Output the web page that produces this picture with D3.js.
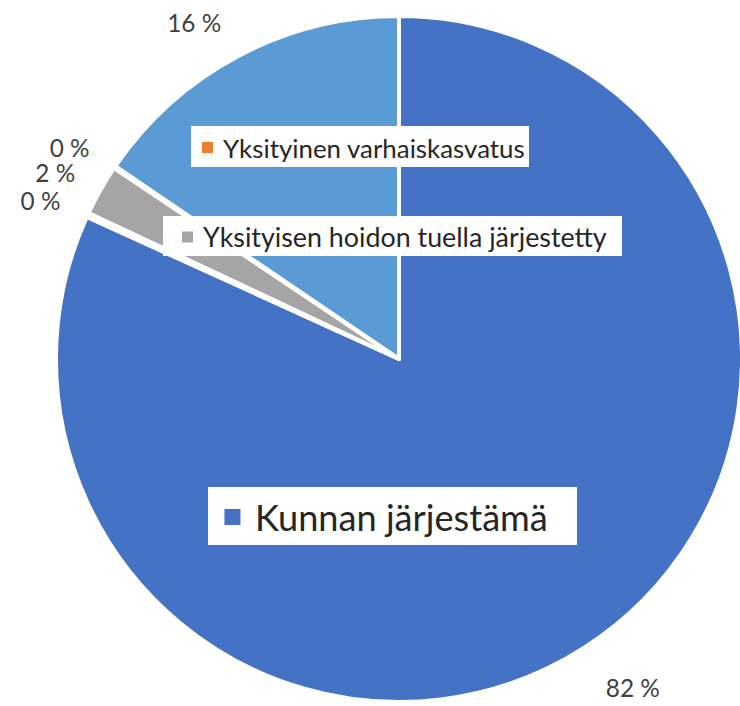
<!DOCTYPE html>
<html>
<head>
    <meta charset="UTF-8">
    <title>Varhaiskasvatus</title>
    <style>
        body {
            margin: 0;
            background-color: white;
        }
        svg {
            display: block;
        }
        .label {
            font-family: Lato, "Open Sans", sans-serif;
            fill: #404040;
        }
        .legend text {
            font-family: Lato, "Open Sans", sans-serif;
            fill: #262626;
        }
    </style>
</head>
<body>
    <svg id="chart" width="740" height="706"></svg>

    <script src="https://d3js.org/d3.v7.min.js"></script>
    <script>
        // Data, clockwise from 12 o'clock
        var categories = ["Kunnan järjestämä", "Yksityinen varhaiskasvatus", "Yksityisen hoidon tuella järjestetty", "Muu 1", "Muu 2"];
        var values = [81.8, 0.2, 2.4, 0.1, 15.5];
        var colors = ["#4472C4", "#ED7D31", "#A5A5A5", "#FFC000", "#5B9BD5"];
        var labelTexts = ["82 %", "0 %", "2 %", "0 %", "16 %"];

        // small nudges for the data labels (Excel spreads them a bit)
        var labelShift = [[20, -4], [0, 7], [0, 8], [-2, 9], [-20, 13]];

        // Legend entries that are visible in the chart
        var legendItems = [
            { index: 1, box: [191, 126, 338, 41], square: 11, textX: 223, textW: 302 },
            { index: 2, box: [163, 216, 459, 40], square: 11, textX: 203, textW: 404 },
            { index: 0, box: [208, 487, 369, 58], square: 16, textX: 255, textW: 293 }
        ];

        var svg = d3.select("#chart");
        var cx = 399, cy = 359, radius = 343;

        var data = values.map(function(v, i) {
            return { name: categories[i], value: v, color: colors[i], label: labelTexts[i], shift: labelShift[i] };
        });

        var pie = d3.pie()
            .sort(null)
            .value(function(d) { return d.value; });

        var arcs = pie(data);

        var arc = d3.arc()
            .innerRadius(0)
            .outerRadius(radius);

        var g = svg.append("g")
            .attr("transform", "translate(" + cx + "," + cy + ")");

        // Slices
        g.selectAll("path.slice")
            .data(arcs)
            .enter().append("path")
            .attr("class", "slice")
            .attr("d", arc)
            .attr("fill", function(d) { return d.data.color; })
            .attr("stroke", "white")
            .attr("stroke-width", 4)
            .attr("stroke-linejoin", "round");

        // Data labels just outside the pie
        var labelArc = d3.arc()
            .innerRadius(radius + 52)
            .outerRadius(radius + 52);

        var labels = g.selectAll("text.label")
            .data(arcs)
            .enter().append("text")
            .attr("class", "label")
            .attr("transform", function(d) {
                var c = labelArc.centroid(d);
                return "translate(" + (c[0] + d.data.shift[0]) + "," + (c[1] + d.data.shift[1]) + ")";
            })
            .attr("text-anchor", "middle")
            .attr("dominant-baseline", "central")
            .style("font-size", "20px")
            .text(function(d) { return d.data.label; });

        // size the labels so "82 %" is as wide as in the picture
        var w82 = labels.filter(function(d, i) { return i === 0; }).node().getComputedTextLength();
        labels.style("font-size", (20 * 54 / w82) + "px");

        // Legend boxes placed inside the chart
        var legend = svg.append("g").attr("class", "legend");

        legendItems.forEach(function(item) {
            var b = item.box;
            var entry = legend.append("g");

            entry.append("rect")
                .attr("x", b[0])
                .attr("y", b[1])
                .attr("width", b[2])
                .attr("height", b[3])
                .attr("fill", "white");

            var midY = b[1] + b[3] / 2;

            entry.append("rect")
                .attr("x", item.textX - item.square - 10 * item.square / 11)
                .attr("y", midY - item.square / 2 + 1)
                .attr("width", item.square)
                .attr("height", item.square)
                .attr("fill", colors[item.index]);

            var t = entry.append("text")
                .attr("x", item.textX)
                .attr("y", midY + 1)
                .attr("dominant-baseline", "central")
                .style("font-size", "24px")
                .text(categories[item.index]);

            // fit text to the width seen in the picture
            var w = t.node().getComputedTextLength();
            t.style("font-size", (24 * item.textW / w) + "px");
        });
    </script>
</body>
</html>
